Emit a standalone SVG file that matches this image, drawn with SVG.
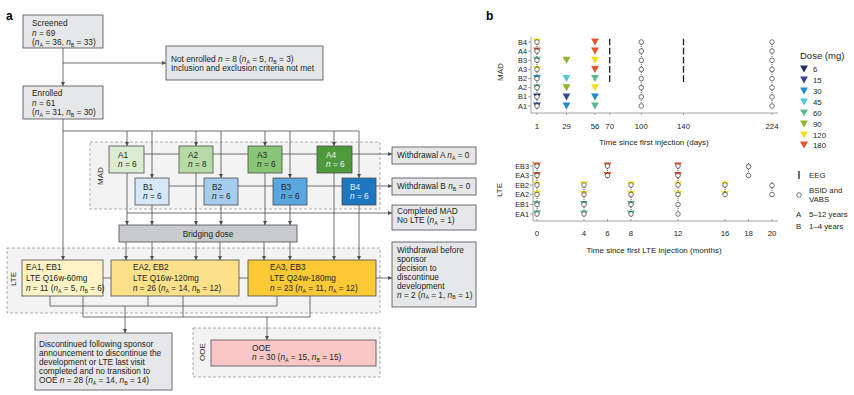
<svg xmlns="http://www.w3.org/2000/svg" width="854" height="395" viewBox="0 0 854 395">
<style>
.t{font-family:"Liberation Sans",Arial,sans-serif;font-size:8.3px;fill:#231f20}
.tl{font-family:"Liberation Sans",Arial,sans-serif;font-size:8.2px;fill:#231f20}
.ax{font-family:"Liberation Sans",Arial,sans-serif;font-size:7.8px;fill:#231f20}
.rl{font-family:"Liberation Sans",Arial,sans-serif;font-size:7.3px;fill:#231f20}
.ttl{font-family:"Liberation Sans",Arial,sans-serif;font-size:8px;fill:#231f20}
.lg{font-family:"Liberation Sans",Arial,sans-serif;font-size:9.5px;fill:#231f20}
.pl{font-family:"Liberation Sans",Arial,sans-serif;font-size:12px;font-weight:bold;fill:#000}
.i{font-style:italic}
.s{font-size:5.2px}
.box{stroke:#4d4d4f;stroke-width:0.8}
.gray{fill:#e6e7e8}
.cont{fill:#f3f3f4;stroke:#9b9b9b;stroke-width:0.8;stroke-dasharray:3 2}
.ln{stroke:#4d4d4f;stroke-width:0.8;fill:none}
.arr{marker-end:url(#ah)}
.axl{stroke:#8a8a8a;stroke-width:0.8;fill:none}
.dot{stroke:#231f20;stroke-width:0.7;stroke-dasharray:1 1;fill:none}
.eeg{stroke:#231f20;stroke-width:1.3}
.c{fill:#fff;stroke:#231f20;stroke-width:0.6}
.w{fill:#eef5ea}
.wb{fill:#e8f1fa}
</style>
<defs>
<marker id="ah" markerUnits="userSpaceOnUse" markerWidth="4" markerHeight="4" viewBox="0 0 6 6" refX="6" refY="3" orient="auto"><path d="M0,0 L6,3 L0,6 Z" fill="#4d4d4f"/></marker>
<path id="tri" d="M-3.9,-3.5 L3.9,-3.5 L0,3.5 Z"/>
<circle id="cir" r="2.3"/>
</defs>
<rect width="854" height="395" fill="#fff"/>

<text class="pl" x="6" y="20">a</text>
<text class="pl" x="486" y="20">b</text>

<!-- containers -->
<g id="mad-group">
<rect class="cont" x="90" y="142" width="290" height="67"/>
<text class="ttl" transform="translate(103,176) rotate(-90)" text-anchor="middle">MAD</text>
</g>
<g id="lte-group">
<rect class="cont" x="7" y="248" width="373" height="65"/>
<text class="ttl" transform="translate(16,279) rotate(-90)" text-anchor="middle">LTE</text>
</g>
<g id="ooe-group">
<rect class="cont" x="193" y="328" width="187" height="49"/>
<text class="ttl" transform="translate(205,352) rotate(-90)" text-anchor="middle">OOE</text>
</g>

<!-- connectors -->
<g id="connectors">
<path class="ln arr" d="M63,48 V86"/>
<path class="ln arr" d="M63,63 H166"/>
<path class="ln arr" d="M63,119 V260"/>
<path class="ln" d="M63,131 H359"/>
<path class="ln arr" d="M127,131 V146"/>
<path class="ln arr" d="M152,131 V178"/>
<path class="ln arr" d="M196,131 V146"/>
<path class="ln arr" d="M221,131 V178"/>
<path class="ln arr" d="M265,131 V146"/>
<path class="ln arr" d="M290,131 V178"/>
<path class="ln arr" d="M334,131 V146"/>
<path class="ln arr" d="M359,131 V178"/>
<path class="ln arr" d="M144,154 H392"/>
<path class="ln arr" d="M169,186 H392"/>
<path class="ln arr" d="M127,213 H392"/>
<path class="ln arr" d="M127,173 V225"/>
<path class="ln arr" d="M152,205 V225"/>
<path class="ln arr" d="M196,173 V225"/>
<path class="ln arr" d="M221,205 V225"/>
<path class="ln arr" d="M265,173 V225"/>
<path class="ln arr" d="M290,205 V225"/>
<path class="ln arr" d="M334,173 V260"/>
<path class="ln arr" d="M359,205 V260"/>
<path class="ln arr" d="M126,242 V260"/>
<path class="ln arr" d="M152,242 V260"/>
<path class="ln arr" d="M196,242 V260"/>
<path class="ln arr" d="M220,242 V260"/>
<path class="ln arr" d="M264,242 V260"/>
<path class="ln arr" d="M290,242 V260"/>
<path class="ln arr" d="M103,278 H392"/>
<path class="ln" d="M50,296 V306 H277 V296 M148,296 V306"/>
<path class="ln" d="M83,296 V317 H310 V296 M183,296 V317"/>
<path class="ln arr" d="M125,306 V333"/>
<path class="ln arr" d="M267,317 V340"/>
</g>

<!-- nodes -->
<g id="screened">
<rect class="box gray" x="23" y="15" width="80" height="33"/>
<text class="t" x="32" y="26">Screened</text>
<text class="t" x="32" y="35.5"><tspan class="i">n</tspan> = 69</text>
<text class="t" x="32" y="45">(<tspan class="i">n</tspan><tspan class="s" dy="1.6">A</tspan><tspan dy="-1.6"> = 36, </tspan><tspan class="i">n</tspan><tspan class="s" dy="1.6">B</tspan><tspan dy="-1.6"> = 33)</tspan></text>
</g>
<g id="not-enrolled">
<rect class="box gray" x="166" y="46" width="157" height="34"/>
<text class="t" x="171" y="62">Not enrolled <tspan class="i">n</tspan> = 8 (<tspan class="i">n</tspan><tspan class="s" dy="1.6">A</tspan><tspan dy="-1.6"> = 5, </tspan><tspan class="i">n</tspan><tspan class="s" dy="1.6">B</tspan><tspan dy="-1.6"> = 3)</tspan></text>
<text class="t" x="171" y="71">Inclusion and exclusion criteria not met</text>
</g>
<g id="enrolled">
<rect class="box gray" x="23" y="86" width="80" height="33"/>
<text class="t" x="32" y="96">Enrolled</text>
<text class="t" x="32" y="105.5"><tspan class="i">n</tspan> = 61</text>
<text class="t" x="32" y="115">(<tspan class="i">n</tspan><tspan class="s" dy="1.6">A</tspan><tspan dy="-1.6"> = 31, </tspan><tspan class="i">n</tspan><tspan class="s" dy="1.6">B</tspan><tspan dy="-1.6"> = 30)</tspan></text>
</g>

<g id="A1"><rect class="box" fill="#dcecd2" x="109" y="146" width="35" height="27"/><text class="t" x="118" y="158">A1</text><text class="t" x="118" y="167"><tspan class="i">n</tspan> = 6</text></g>
<g id="A2"><rect class="box" fill="#b7dba6" x="179" y="146" width="34" height="27"/><text class="t" x="188" y="158">A2</text><text class="t" x="188" y="167"><tspan class="i">n</tspan> = 8</text></g>
<g id="A3"><rect class="box" fill="#89c577" x="248" y="146" width="34" height="27"/><text class="t" x="257" y="158">A3</text><text class="t" x="257" y="167"><tspan class="i">n</tspan> = 6</text></g>
<g id="A4"><rect class="box" fill="#4e9a3b" x="317" y="146" width="35" height="27"/><text class="t w" x="326" y="158">A4</text><text class="t w" x="326" y="167"><tspan class="i">n</tspan> = 6</text></g>
<g id="B1"><rect class="box" fill="#d5e8f6" x="135" y="178" width="34" height="27"/><text class="t" x="143" y="190">B1</text><text class="t" x="143" y="199"><tspan class="i">n</tspan> = 6</text></g>
<g id="B2"><rect class="box" fill="#a6ccee" x="204" y="178" width="34" height="27"/><text class="t" x="212" y="190">B2</text><text class="t" x="212" y="199"><tspan class="i">n</tspan> = 6</text></g>
<g id="B3"><rect class="box" fill="#5aa7e0" x="273" y="178" width="34" height="27"/><text class="t" x="281" y="190">B3</text><text class="t" x="281" y="199"><tspan class="i">n</tspan> = 6</text></g>
<g id="B4"><rect class="box" fill="#1d77c0" x="342" y="178" width="34" height="27"/><text class="t wb" x="350" y="190">B4</text><text class="t wb" x="350" y="199"><tspan class="i">n</tspan> = 6</text></g>

<g id="withdrawal-a"><rect class="box gray" x="392" y="147" width="84" height="17"/><text class="t" x="397" y="158">Withdrawal A <tspan class="i">n</tspan><tspan class="s" dy="1.6">A</tspan><tspan dy="-1.6"> = 0</tspan></text></g>
<g id="withdrawal-b"><rect class="box gray" x="392" y="178" width="84" height="17"/><text class="t" x="397" y="189">Withdrawal B <tspan class="i">n</tspan><tspan class="s" dy="1.6">B</tspan><tspan dy="-1.6"> = 0</tspan></text></g>
<g id="completed-mad"><rect class="box gray" x="392" y="205" width="84" height="25"/><text class="t" x="397" y="214">Completed MAD</text><text class="t" x="397" y="223">No LTE (<tspan class="i">n</tspan><tspan class="s" dy="1.6">A</tspan><tspan dy="-1.6"> = 1)</tspan></text></g>

<g id="bridging"><rect class="box" fill="#c9cacc" x="119" y="225" width="178" height="17"/><text class="t" x="208" y="236.5" text-anchor="middle">Bridging dose</text></g>

<g id="EA1"><rect class="box" fill="#fdf3c6" x="22" y="260" width="81" height="36"/><text class="tl" x="26" y="270">EA1, EB1</text><text class="tl" x="26" y="280.5">LTE Q16w-60mg</text><text class="tl" x="26" y="291"><tspan class="i">n</tspan> = 11 (<tspan class="i">n</tspan><tspan class="s" dy="1.6">A</tspan><tspan dy="-1.6"> = 5, </tspan><tspan class="i">n</tspan><tspan class="s" dy="1.6">B</tspan><tspan dy="-1.6"> = 6)</tspan></text></g>
<g id="EA2"><rect class="box" fill="#fde08a" x="111" y="260" width="128" height="36"/><text class="tl" x="133" y="270">EA2, EB2</text><text class="tl" x="133" y="280.5">LTE Q16w-120mg</text><text class="tl" x="133" y="291"><tspan class="i">n</tspan> = 26 (<tspan class="i">n</tspan><tspan class="s" dy="1.6">A</tspan><tspan dy="-1.6"> = 14, </tspan><tspan class="i">n</tspan><tspan class="s" dy="1.6">B</tspan><tspan dy="-1.6"> = 12)</tspan></text></g>
<g id="EA3"><rect class="box" fill="#fbc936" x="248" y="260" width="128" height="36"/><text class="tl" x="270" y="270">EA3, EB3</text><text class="tl" x="270" y="280.5">LTE Q24w-180mg</text><text class="tl" x="270" y="291"><tspan class="i">n</tspan> = 23 (<tspan class="i">n</tspan><tspan class="s" dy="1.6">A</tspan><tspan dy="-1.6"> = 11, </tspan><tspan class="i">n</tspan><tspan class="s" dy="1.6">A</tspan><tspan dy="-1.6"> = 12)</tspan></text></g>

<g id="withdrawal-before"><rect class="box gray" x="392" y="242" width="84" height="65"/>
<text class="t" x="397" y="253">Withdrawal before</text>
<text class="t" x="397" y="262">sponsor</text>
<text class="t" x="397" y="270.5">decision to</text>
<text class="t" x="397" y="279.5">discontinue</text>
<text class="t" x="397" y="288.5">development</text>
<text class="t" x="397" y="297.5"><tspan class="i">n</tspan> = 2 (<tspan class="i">n</tspan><tspan class="s" dy="1.6">A</tspan><tspan dy="-1.6"> = 1, </tspan><tspan class="i">n</tspan><tspan class="s" dy="1.6">B</tspan><tspan dy="-1.6"> = 1)</tspan></text>
</g>

<g id="discontinued"><rect class="box gray" x="35" y="333" width="137" height="57"/>
<text class="t" x="39" y="347">Discontinued following sponsor</text>
<text class="t" x="39" y="356">announcement to discontinue the</text>
<text class="t" x="39" y="365">development or LTE last visit</text>
<text class="t" x="39" y="374">completed and no transition to</text>
<text class="t" x="39" y="383">OOE <tspan class="i">n</tspan> = 28 (<tspan class="i">n</tspan><tspan class="s" dy="1.6">A</tspan><tspan dy="-1.6"> = 14, </tspan><tspan class="i">n</tspan><tspan class="s" dy="1.6">B</tspan><tspan dy="-1.6"> = 14)</tspan></text>
</g>

<g id="OOE"><rect class="box" fill="#f8c7c6" x="211" y="340" width="165" height="26"/>
<text class="t" x="252" y="351">OOE</text>
<text class="t" x="252" y="360"><tspan class="i">n</tspan> = 30 (<tspan class="i">n</tspan><tspan class="s" dy="1.6">A</tspan><tspan dy="-1.6"> = 15, </tspan><tspan class="i">n</tspan><tspan class="s" dy="1.6">B</tspan><tspan dy="-1.6"> = 15)</tspan></text>
</g>

<!-- panel b: MAD plot -->
<g id="mad-plot">
<path class="axl" d="M531,37 V113 H778"/>
<path class="axl" d="M528,42 H531 M528,51.1 H531 M528,60.3 H531 M528,69.4 H531 M528,78.6 H531 M528,87.7 H531 M528,96.9 H531 M528,106 H531"/>
<path class="axl" d="M537,113 V115 M566.5,113 V115 M595,113 V115 M609.7,113 V115 M641.3,113 V115 M683.5,113 V115 M772,113 V115"/>
<g class="rl" text-anchor="end">
<text x="527" y="44.5">B4</text><text x="527" y="53.6">A4</text><text x="527" y="62.8">B3</text><text x="527" y="71.9">A3</text><text x="527" y="81.1">B2</text><text x="527" y="90.2">A2</text><text x="527" y="99.4">B1</text><text x="527" y="108.5">A1</text>
</g>
<g class="ax" text-anchor="middle">
<text x="537" y="129">1</text><text x="566.5" y="129">29</text><text x="595" y="129">56</text><text x="609.7" y="129">70</text><text x="641.3" y="129">100</text><text x="683.5" y="129">140</text><text x="772" y="129">224</text>
</g>
<text class="ttl" x="654" y="145" text-anchor="middle">Time since first injection (days)</text>
<text class="ttl" transform="translate(503,72) rotate(-90)" text-anchor="middle">MAD</text>
<!-- EEG bars -->
<path class="eeg" d="M609.7,38.7 V45.3 M609.7,47.8 V54.4 M609.7,57 V63.6 M609.7,66.1 V72.7 M609.7,75.3 V81.9"/>
<path class="eeg" d="M683.5,38.7 V45.3 M683.5,47.8 V54.4 M683.5,57 V63.6 M683.5,66.1 V72.7 M683.5,75.3 V81.9"/>
<!-- day 1 -->
<use href="#tri" x="537" y="42" fill="#f2e01f"/>
<use href="#tri" x="537" y="51.1" fill="#e5532a"/>
<use href="#tri" x="537" y="60.3" fill="#5ab98d"/>
<use href="#tri" x="537" y="69.4" fill="#f2e01f"/>
<use href="#tri" x="537" y="78.6" fill="#1b8dcf"/>
<use href="#tri" x="537" y="87.7" fill="#5ab98d"/>
<use href="#tri" x="537" y="96.9" fill="#1f2d6e"/>
<use href="#tri" x="537" y="106" fill="#34479b"/>
<path class="dot" d="M537,42 V106"/>
<g class="c">
<use href="#cir" x="537" y="42"/><use href="#cir" x="537" y="51.1"/><use href="#cir" x="537" y="60.3"/><use href="#cir" x="537" y="69.4"/><use href="#cir" x="537" y="78.6"/><use href="#cir" x="537" y="87.7"/><use href="#cir" x="537" y="96.9"/><use href="#cir" x="537" y="106"/>
</g>
<!-- day 29 -->
<use href="#tri" x="566.5" y="60.3" fill="#8db52c"/>
<use href="#tri" x="566.5" y="78.6" fill="#56c5de"/>
<use href="#tri" x="566.5" y="87.7" fill="#8db52c"/>
<use href="#tri" x="566.5" y="96.9" fill="#34479b"/>
<use href="#tri" x="566.5" y="106" fill="#1b8dcf"/>
<!-- day 56 -->
<use href="#tri" x="595" y="42" fill="#e5532a"/>
<use href="#tri" x="595" y="51.1" fill="#e5532a"/>
<use href="#tri" x="595" y="60.3" fill="#f2e01f"/>
<use href="#tri" x="595" y="69.4" fill="#e5532a"/>
<use href="#tri" x="595" y="78.6" fill="#5ab98d"/>
<use href="#tri" x="595" y="87.7" fill="#f2e01f"/>
<use href="#tri" x="595" y="96.9" fill="#1b8dcf"/>
<use href="#tri" x="595" y="106" fill="#5ab98d"/>
<!-- day 100 / 224 -->
<path class="dot" d="M641.3,40 V108 M772,40 V108"/>
<g class="c">
<use href="#cir" x="641.3" y="42"/><use href="#cir" x="641.3" y="51.1"/><use href="#cir" x="641.3" y="60.3"/><use href="#cir" x="641.3" y="69.4"/><use href="#cir" x="641.3" y="78.6"/><use href="#cir" x="641.3" y="87.7"/><use href="#cir" x="641.3" y="96.9"/><use href="#cir" x="641.3" y="106"/>
<use href="#cir" x="772" y="42"/><use href="#cir" x="772" y="51.1"/><use href="#cir" x="772" y="60.3"/><use href="#cir" x="772" y="69.4"/><use href="#cir" x="772" y="78.6"/><use href="#cir" x="772" y="87.7"/><use href="#cir" x="772" y="96.9"/><use href="#cir" x="772" y="106"/>
</g>
</g>

<g id="dose-legend">
<text class="lg" x="800" y="59">Dose (mg)</text>
<use href="#tri" x="804" y="69" fill="#1f2d6e"/><text class="ax" x="813" y="71.8">6</text>
<use href="#tri" x="804" y="80" fill="#34479b"/><text class="ax" x="813" y="82.8">15</text>
<use href="#tri" x="804" y="91" fill="#1b8dcf"/><text class="ax" x="813" y="93.8">30</text>
<use href="#tri" x="804" y="102" fill="#56c5de"/><text class="ax" x="813" y="104.8">45</text>
<use href="#tri" x="804" y="113" fill="#5ab98d"/><text class="ax" x="813" y="115.8">60</text>
<use href="#tri" x="804" y="124" fill="#8db52c"/><text class="ax" x="813" y="126.8">90</text>
<use href="#tri" x="804" y="135" fill="#f2e01f"/><text class="ax" x="813" y="137.8">120</text>
<use href="#tri" x="804" y="145" fill="#e5532a"/><text class="ax" x="813" y="147.8">180</text>
</g>

<!-- panel b: LTE plot -->
<g id="lte-plot">
<path class="axl" d="M533,161 V221 H778"/>
<path class="axl" d="M530,166 H533 M530,175.5 H533 M530,185 H533 M530,194.5 H533 M530,204.5 H533 M530,214 H533"/>
<path class="axl" d="M537,221 V219 M584,221 V219 M607.5,221 V219 M631,221 V219 M678,221 V219 M725,221 V219 M748.5,221 V219 M772,221 V219"/>
<g class="rl" text-anchor="end">
<text x="529" y="168.5">EB3</text><text x="529" y="178">EA3</text><text x="529" y="187.5">EB2</text><text x="529" y="197">EA2</text><text x="529" y="207">EB1</text><text x="529" y="216.5">EA1</text>
</g>
<g class="ax" text-anchor="middle">
<text x="537" y="236">0</text><text x="584" y="236">4</text><text x="607.5" y="236">6</text><text x="631" y="236">8</text><text x="678" y="236">12</text><text x="725" y="236">16</text><text x="748.5" y="236">18</text><text x="772" y="236">20</text>
</g>
<text class="ttl" x="654" y="253" text-anchor="middle">Time since first LTE injection (months)</text>
<text class="ttl" transform="translate(502,190) rotate(-90)" text-anchor="middle">LTE</text>
<!-- triangles -->
<use href="#tri" x="537" y="166" fill="#e5532a"/><use href="#tri" x="537" y="175.5" fill="#e5532a"/>
<use href="#tri" x="537" y="185" fill="#f2e01f"/><use href="#tri" x="537" y="194.5" fill="#f2e01f"/>
<use href="#tri" x="537" y="204.5" fill="#5ab98d"/><use href="#tri" x="537" y="214" fill="#5ab98d"/>
<use href="#tri" x="584" y="185" fill="#f2e01f"/><use href="#tri" x="584" y="194.5" fill="#f2e01f"/>
<use href="#tri" x="584" y="204.5" fill="#5ab98d"/><use href="#tri" x="584" y="214" fill="#5ab98d"/>
<use href="#tri" x="607.5" y="166" fill="#e5532a"/><use href="#tri" x="607.5" y="175.5" fill="#e5532a"/>
<use href="#tri" x="631" y="185" fill="#f2e01f"/><use href="#tri" x="631" y="194.5" fill="#f2e01f"/>
<use href="#tri" x="631" y="204.5" fill="#5ab98d"/><use href="#tri" x="631" y="214" fill="#5ab98d"/>
<use href="#tri" x="678" y="166" fill="#e5532a"/><use href="#tri" x="678" y="175.5" fill="#e5532a"/>
<use href="#tri" x="678" y="185" fill="#f2e01f"/><use href="#tri" x="678" y="194.5" fill="#f2e01f"/>
<use href="#tri" x="725" y="185" fill="#f2e01f"/><use href="#tri" x="725" y="194.5" fill="#f2e01f"/>
<!-- dotted links -->
<path class="dot" d="M537,166 V214 M584,185 V214 M607.5,166 V178 M631,185 V214 M678,166 V214 M725,185 V194.5 M748.5,163 V179 M772,182 V198"/>
<g class="c">
<use href="#cir" x="537" y="166"/><use href="#cir" x="537" y="175.5"/><use href="#cir" x="537" y="185"/><use href="#cir" x="537" y="194.5"/><use href="#cir" x="537" y="204.5"/><use href="#cir" x="537" y="214"/>
<use href="#cir" x="584" y="185"/><use href="#cir" x="584" y="194.5"/><use href="#cir" x="584" y="204.5"/><use href="#cir" x="584" y="214"/>
<use href="#cir" x="607.5" y="166"/><use href="#cir" x="607.5" y="175.5"/>
<use href="#cir" x="631" y="185"/><use href="#cir" x="631" y="194.5"/><use href="#cir" x="631" y="204.5"/><use href="#cir" x="631" y="214"/>
<use href="#cir" x="678" y="166"/><use href="#cir" x="678" y="175.5"/><use href="#cir" x="678" y="185"/><use href="#cir" x="678" y="194.5"/><use href="#cir" x="678" y="204.5"/><use href="#cir" x="678" y="214"/>
<use href="#cir" x="725" y="185"/><use href="#cir" x="725" y="194.5"/>
<use href="#cir" x="748.5" y="166.5"/><use href="#cir" x="748.5" y="175.5"/>
<use href="#cir" x="772" y="185.5"/><use href="#cir" x="772" y="194.5"/>
</g>
</g>

<g id="symbol-legend">
<path class="eeg" d="M799,171 V179"/>
<text class="ax" x="809" y="178">EEG</text>
<use class="c" href="#cir" x="799" y="195"/>
<text class="ax" x="809" y="193">BSID and</text>
<text class="ax" x="809" y="202">VABS</text>
<text class="ax" x="796" y="217">A</text><text class="ax" x="809" y="217">5–12 years</text>
<text class="ax" x="796" y="229">B</text><text class="ax" x="809" y="229">1–4 years</text>
</g>
</svg>
